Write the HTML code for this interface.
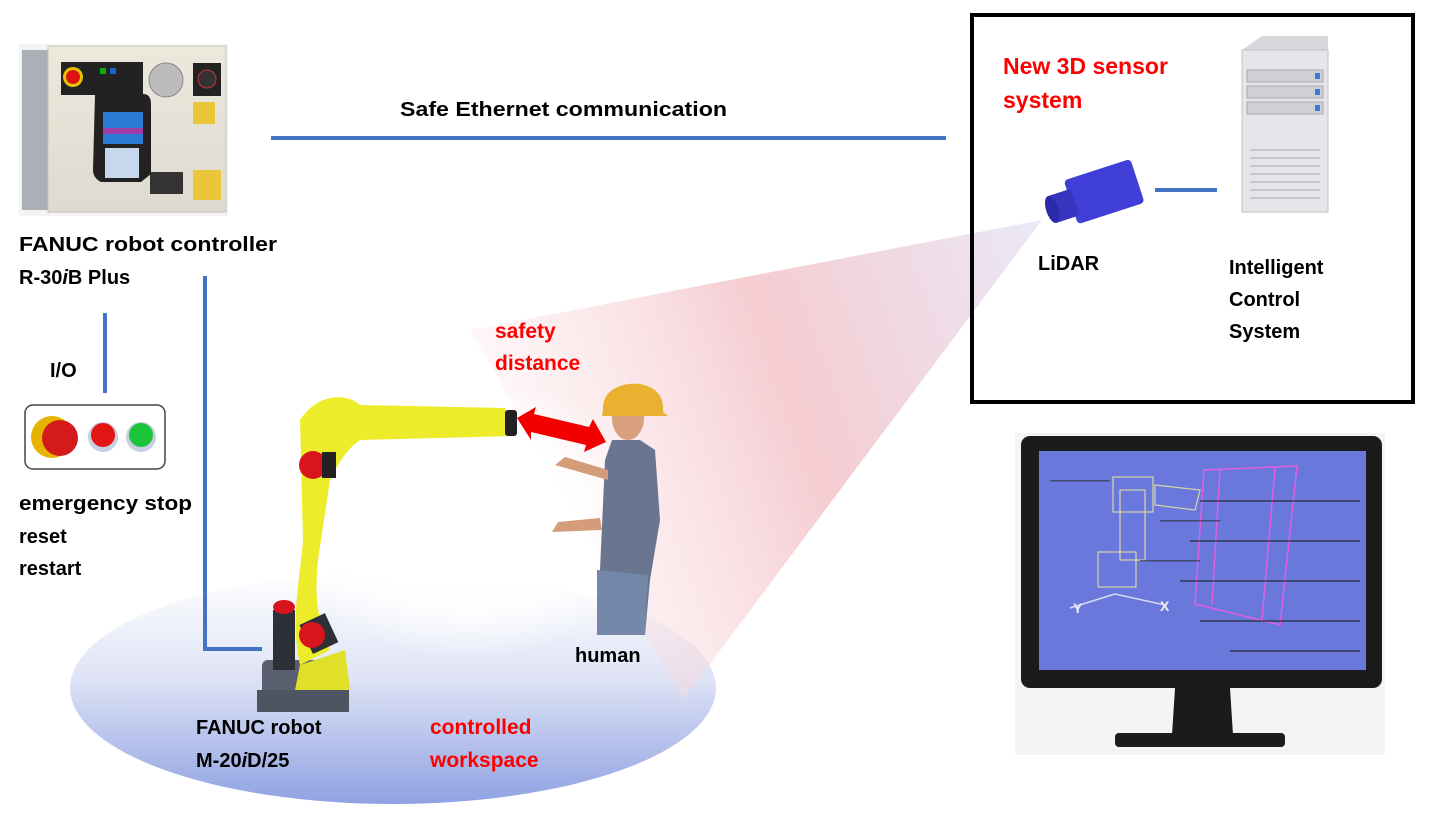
<!DOCTYPE html>
<html><head><meta charset="utf-8"><style>
html,body{margin:0;padding:0;background:#fff}
svg text{font-family:"Liberation Sans",sans-serif;font-weight:bold}
</style></head><body>
<svg width="1429" height="816" viewBox="0 0 1429 816" xmlns="http://www.w3.org/2000/svg">
<defs>
<linearGradient id="ell" x1="0" y1="0" x2="0" y2="1">
<stop offset="0" stop-color="#ffffff"/><stop offset="0.45" stop-color="#dfe4f6"/><stop offset="1" stop-color="#8fa2e2"/></linearGradient>
<linearGradient id="cone" x1="1" y1="0" x2="0" y2="0.3">
<stop offset="0" stop-color="#e8e6f6"/><stop offset="0.5" stop-color="#f4c6cc"/><stop offset="1" stop-color="#fbe4e6" stop-opacity="0.3"/></linearGradient>
<radialGradient id="whiteglow" cx="0.5" cy="0.5" r="0.5"><stop offset="0" stop-color="#fff"/><stop offset="0.6" stop-color="#fff" stop-opacity="0.9"/><stop offset="1" stop-color="#fff" stop-opacity="0"/></radialGradient>
<linearGradient id="ctrl" x1="0" y1="0" x2="0" y2="1"><stop offset="0" stop-color="#ece8dc"/><stop offset="1" stop-color="#dedad0"/></linearGradient>
</defs>

<ellipse cx="393" cy="688" rx="323" ry="116" fill="url(#ell)"/>
<polygon points="1042,220 470,330 683,700" fill="url(#cone)" opacity="0.9"/>
<ellipse cx="470" cy="520" rx="190" ry="140" fill="url(#whiteglow)"/>

<rect x="19" y="44" width="209" height="172" fill="#f3f3f3"/>
<rect x="22" y="50" width="30" height="160" fill="#aab0b6"/>
<rect x="48" y="46" width="178" height="166" fill="url(#ctrl)" stroke="#c8c4b8"/>
<rect x="61" y="62" width="82" height="33" fill="#222"/>
<circle cx="73" cy="77" r="10" fill="#e8c400"/><circle cx="73" cy="77" r="7" fill="#d11"/>
<rect x="100" y="68" width="6" height="6" fill="#1a1"/><rect x="110" y="68" width="6" height="6" fill="#16c"/>
<circle cx="166" cy="80" r="17" fill="#bbb" stroke="#888"/>
<rect x="193" y="63" width="28" height="33" fill="#222"/><circle cx="207" cy="79" r="9" fill="#333" stroke="#c33"/>
<path d="M95,94 h48 q8,0 8,10 v70 l-10,8 h-40 q-8,-4 -8,-12 z" fill="#222"/>
<rect x="103" y="112" width="40" height="32" fill="#2a7bd6"/><rect x="103" y="128" width="40" height="6" fill="#a03ca8"/>
<rect x="105" y="148" width="34" height="30" fill="#c8d8ec"/>
<rect x="150" y="172" width="33" height="22" fill="#333"/>
<rect x="193" y="170" width="28" height="30" fill="#e9c63a"/>
<rect x="193" y="102" width="22" height="22" fill="#e9c63a"/>

<g stroke="#4472c4" stroke-width="4" fill="none">
<line x1="271" y1="138" x2="946" y2="138"/>
<line x1="1155" y1="190" x2="1217" y2="190"/>
<line x1="105" y1="313" x2="105" y2="393"/>
<polyline points="205,276 205,649 262,649"/>
</g>

<rect x="972" y="15" width="441" height="387" fill="none" stroke="#000" stroke-width="4"/>

<g transform="rotate(-18 1100 195)">
<rect x="1070" y="170" width="70" height="46" rx="4" fill="#3f3fd8"/>
<rect x="1050" y="180" width="24" height="28" fill="#3535c0"/>
<ellipse cx="1050" cy="194" rx="6" ry="14" fill="#2a2aa8"/>
</g>
<path d="M1242,50 L1262,36 L1328,36 L1328,212 L1242,212 Z" fill="#d8d8dc"/>
<rect x="1242" y="50" width="86" height="162" fill="#e6e6ea" stroke="#c0c0c6"/>
<rect x="1247" y="70" width="76" height="12" fill="#cfd0d6" stroke="#aaa"/>
<rect x="1247" y="86" width="76" height="12" fill="#cfd0d6" stroke="#aaa"/>
<rect x="1247" y="102" width="76" height="12" fill="#cfd0d6" stroke="#aaa"/>
<rect x="1315" y="73" width="5" height="6" fill="#3b7bd8"/><rect x="1315" y="89" width="5" height="6" fill="#3b7bd8"/><rect x="1315" y="105" width="5" height="6" fill="#3b7bd8"/>
<g stroke="#b8b8c0" stroke-width="1.5"><line x1="1250" y1="150" x2="1320" y2="150"/><line x1="1250" y1="158" x2="1320" y2="158"/><line x1="1250" y1="166" x2="1320" y2="166"/><line x1="1250" y1="174" x2="1320" y2="174"/><line x1="1250" y1="182" x2="1320" y2="182"/><line x1="1250" y1="190" x2="1320" y2="190"/><line x1="1250" y1="198" x2="1320" y2="198"/></g>

<rect x="25" y="405" width="140" height="64" rx="8" fill="#fff" stroke="#444" stroke-width="1.5"/>
<circle cx="52" cy="437" r="21" fill="#e6b400"/><circle cx="60" cy="438" r="18" fill="#d41a1a"/>
<circle cx="103" cy="437" r="15" fill="#c8cfe0"/><circle cx="103" cy="435" r="12" fill="#e31414"/>
<circle cx="141" cy="437" r="15" fill="#c8cfe0"/><circle cx="141" cy="435" r="12" fill="#1cc43a"/>

<rect x="262" y="660" width="82" height="52" rx="6" fill="#5a6070"/>
<rect x="257" y="690" width="92" height="22" fill="#4e5462"/>
<path d="M300,420 C320,390 350,395 360,405 L505,408 L512,436 L360,440 C345,450 335,470 330,480 L318,560 C314,600 318,620 330,650 L300,665 C290,620 300,580 303,540 Z" fill="#ecec2a"/>
<path d="M300,665 L345,650 L350,690 L295,690 Z" fill="#e0e028"/>
<rect x="505" y="410" width="12" height="26" rx="3" fill="#222"/>
<circle cx="313" cy="465" r="14" fill="#d8141c"/><rect x="322" y="452" width="14" height="26" fill="#222"/>
<rect x="273" y="610" width="22" height="60" fill="#2e3038"/><ellipse cx="284" cy="607" rx="11" ry="7" fill="#d8141c"/>
<rect x="305" y="618" width="28" height="32" fill="#2e3038" transform="rotate(-25 318 634)"/>
<circle cx="312" cy="635" r="13" fill="#d8141c"/>

<polygon points="517,418 536,407 534,414 589,427 593,419 606,442 584,452 586,445 531,432 531,440" fill="#f20000"/>

<path d="M612,440 L640,440 L655,450 L660,520 L650,580 L645,635 L597,635 L600,570 L605,460 Z" fill="#6a7590"/>
<path d="M597,570 L648,575 L645,635 L597,635 Z" fill="#7487a8"/>
<ellipse cx="628" cy="418" rx="16" ry="22" fill="#d8a07c"/>
<path d="M603,410 C602,388 625,382 640,384 C660,388 664,400 663,412 L668,416 L602,416 Z" fill="#eab130"/>
<path d="M555,465 L608,480 L608,470 L565,457 Z" fill="#d49c78"/>
<path d="M552,532 L602,530 L600,518 L558,522 Z" fill="#d49c78"/>

<rect x="1015" y="433" width="370" height="322" fill="#f4f4f4"/>
<rect x="1021" y="436" width="361" height="252" rx="9" fill="#1b1b1b"/>
<rect x="1039" y="451" width="327" height="219" fill="#6a78dc"/>
<polygon points="1175,688 1230,688 1233,735 1172,735" fill="#1b1b1b"/>
<rect x="1115" y="733" width="170" height="14" rx="4" fill="#1b1b1b"/>
<g fill="none" stroke="#d8d4a8" stroke-width="1.2">
<rect x="1113" y="477" width="40" height="35"/><rect x="1120" y="490" width="25" height="70"/>
<polygon points="1155,485 1200,490 1195,510 1155,505"/><rect x="1098" y="552" width="38" height="35"/>
</g>
<g stroke="#e060e0" stroke-width="1.5" fill="none"><polygon points="1204,470 1297,466 1280,625 1195,604"/><line x1="1220" y1="470" x2="1212" y2="605"/><line x1="1275" y1="468" x2="1262" y2="620"/></g>
<g stroke="#d8dcf0" stroke-width="1.5"><line x1="1070" y1="608" x2="1115" y2="594"/><line x1="1115" y1="594" x2="1165" y2="605"/></g>
<g fill="#222" opacity="0.55"><rect x="1200" y="500" width="160" height="2"/><rect x="1190" y="540" width="170" height="2"/><rect x="1180" y="580" width="180" height="2"/><rect x="1200" y="620" width="160" height="2"/><rect x="1230" y="650" width="130" height="2"/><rect x="1050" y="480" width="60" height="1.5"/><rect x="1160" y="520" width="60" height="1.5"/><rect x="1140" y="560" width="60" height="1.5"/></g>
<text x="1073" y="613" fill="#f0f0f0" font-size="14">Y</text><text x="1160" y="611" fill="#f0f0f0" font-size="14">X</text>

<g font-size="20" fill="#000">
<text x="400" y="116" textLength="327" lengthAdjust="spacingAndGlyphs">Safe Ethernet communication</text>
<text x="19" y="251" textLength="258" lengthAdjust="spacingAndGlyphs">FANUC robot controller</text>
<text x="19" y="284">R-30<tspan font-style="italic">i</tspan>B Plus</text>
<text x="50" y="377">I/O</text>
<text x="19" y="510" textLength="173" lengthAdjust="spacingAndGlyphs">emergency stop</text>
<text x="19" y="543">reset</text>
<text x="19" y="575">restart</text>
<text x="1038" y="270">LiDAR</text>
<text x="1229" y="274">Intelligent</text>
<text x="1229" y="306">Control</text>
<text x="1229" y="338">System</text>
<text x="575" y="662">human</text>
<text x="196" y="734">FANUC robot</text>
<text x="196" y="767">M-20<tspan font-style="italic">i</tspan>D/25</text>
</g>
<g font-size="21" fill="#f00">
<text x="1003" y="74" font-size="23">New 3D sensor</text>
<text x="1003" y="108" font-size="23">system</text>
<text x="495" y="338">safety</text>
<text x="495" y="370">distance</text>
<text x="430" y="734">controlled</text>
<text x="430" y="767">workspace</text>
</g>
</svg>
</body></html>
